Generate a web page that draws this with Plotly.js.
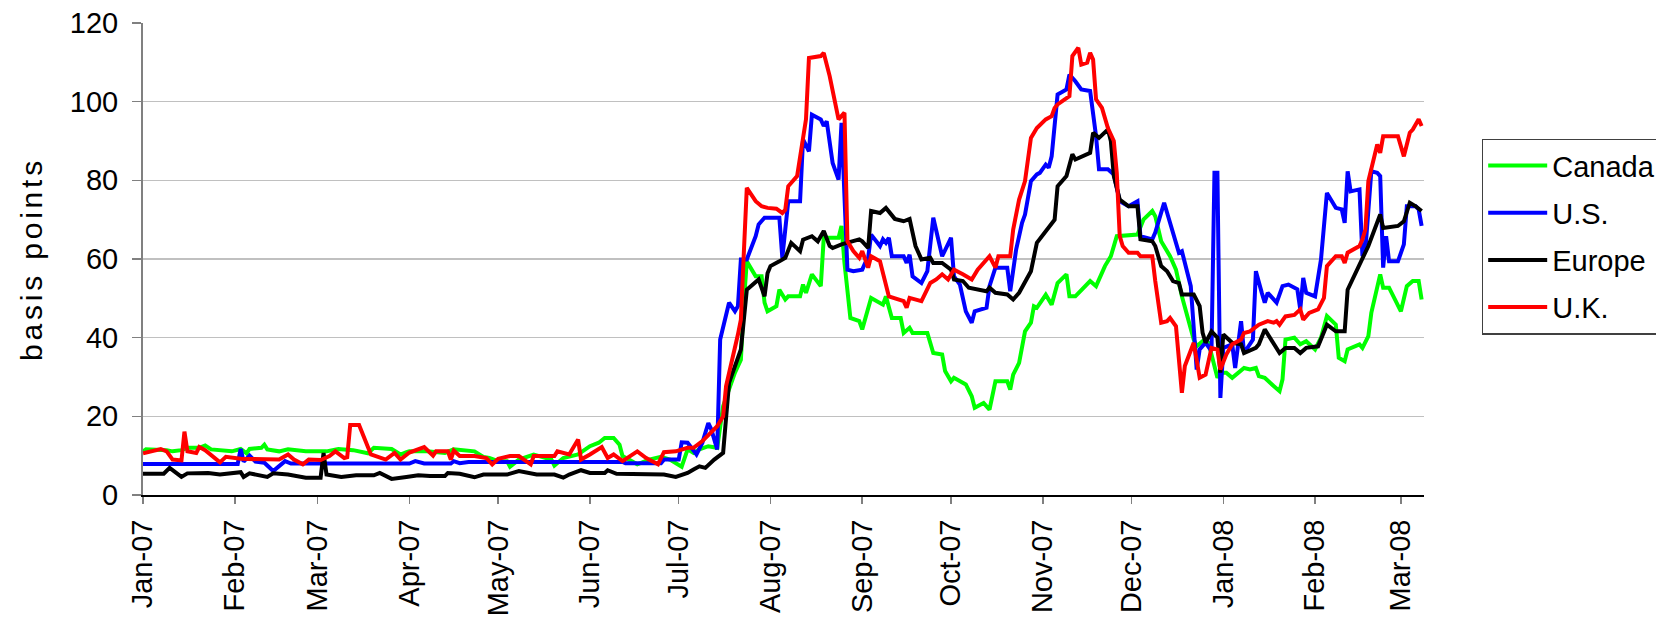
<!DOCTYPE html>
<html>
<head>
<meta charset="utf-8">
<script src="https://cdn.plot.ly/plotly-3.0.1.min.js"></script>
<style>
  html, body { margin: 0; padding: 0; overflow: hidden; background: #fff; }
  #chart { width: 1800px; height: 621px; }
  #chart .ytitle { letter-spacing: 3.8px; }
</style>
</head>
<body>
<div id="chart"></div>
<script>
// Series names, in legend order
const seriesNames = ['Canada', 'U.S.', 'Europe', 'U.K.'];
// All x values are days counted from this date
const startDate = '2007-01-01';

// [day since 1 Jan 2007, basis points]
const canadaPoints = [
  [0,11.1],[1,11.6],[8,11.4],[10,11.1],[13,11.4],[15,12.0],[19,12.0],[21,12.6],[23,11.6],[30,11.1],[33,11.7],[35,10.6],[36,11.7],
  [40,12.0],[41,12.8],[42,11.6],[46,11.1],[49,11.6],[55,11.1],[62,11.1],[66,11.7],[71,11.4],[76,10.6],[78,12.0],[84,11.7],[87,10.3],
  [89,10.9],[90,11.1],[96,11.1],[102,10.7],[105,11.6],[112,11.1],[115,9.7],[117,9.4],[120,8.6],[123,8.6],[124,7.2],[127,9.0],[132,10.3],
  [138,9.0],[139,7.5],[142,9.4],[147,10.3],[151,12.4],[154,13.3],[156,14.5],[159,14.5],[161,12.8],[162,9.9],[167,7.8],[171,9.0],[175,9.7],
  [178,9.0],[182,7.2],[184,11.6],[186,10.7],[188,11.6],[191,12.4],[194,12.0],[196,22.6],[200,31.1],[202,34.4],[203,48.9],[204,59.4],
  [207,55.6],[209,55.6],[210,48.9],[211,46.7],[214,48.0],[215,52.2],[217,49.7],[218,50.5],[222,50.5],[223,53.5],[224,51.4],[226,56.1],
  [229,53.1],[230,65.4],[235,65.4],[236,68.4],[237,59.0],[239,45.0],[242,44.2],[243,42.1],[246,50.1],[250,48.4],[251,50.5],[253,45.0],
  [256,45.0],[257,41.2],[259,42.5],[260,41.2],[265,41.2],[267,36.1],[270,35.7],[271,31.5],[273,28.9],[274,29.8],[278,28.1],[280,25.1],
  [281,22.2],[284,23.4],[286,21.7],[288,28.9],[292,28.9],[293,26.8],[294,30.6],[296,33.6],[298,41.6],[300,43.8],[301,48.0],[302,47.6],
  [305,50.9],[307,48.4],[309,53.9],[312,56.1],[313,50.5],[315,50.5],[320,54.4],[322,53.1],[325,58.2],[327,60.7],[329,65.8],[336,66.2],
  [338,70.0],[341,72.2],[342,70.9],[344,64.5],[347,60.7],[349,57.3],[351,50.5],[355,39.5],[356,37.8],[358,39.1],[360,38.7],[363,29.8],
  [364,31.1],[366,31.1],[368,29.8],[372,32.3],[374,31.9],[376,32.3],[377,30.2],[379,29.8],[382,27.7],[384,26.4],[385,29.4],[386,39.5],
  [389,40.0],[391,38.3],[393,39.1],[396,37.0],[398,40.0],[400,45.5],[403,43.3],[404,34.9],[406,34.0],[407,37.0],[411,38.3],[412,37.4],
  [414,40.4],[415,46.3],[418,56.1],[419,52.7],[421,52.7],[423,49.7],[425,46.7],[427,53.1],[429,54.4],[431,54.4],[432,49.7]
];

const usPoints = [
  [0,7.9],[32,7.9],[33,11.7],[34,8.5],[36,10.0],[38,8.5],[41,8.2],[44,6.1],[48,8.6],[50,8.0],[90,8.0],[92,8.6],[95,8.0],[104,8.0],
  [105,8.6],[107,8.1],[110,8.4],[162,8.4],[163,8.1],[175,8.1],[176,9.0],[181,9.0],[182,13.4],[184,13.3],[187,10.3],[189,13.3],[191,18.3],
  [192,16.7],[194,11.6],[195,39.5],[198,48.9],[200,46.7],[201,48.0],[202,59.9],[204,59.9],[207,65.8],[208,68.8],[210,70.5],[215,70.5],
  [216,60.3],[218,74.7],[222,74.7],[223,90.4],[225,87.4],[226,96.7],[229,95.5],[230,93.8],[231,95.0],[233,84.4],[235,80.2],[236,94.6],
  [238,57.3],[240,56.9],[243,57.3],[244,59.0],[245,60.3],[246,66.2],[249,63.3],[250,65.0],[251,64.1],[252,65.4],[253,60.7],[257,60.7],
  [258,59.0],[259,61.1],[260,55.6],[263,53.9],[265,56.9],[267,70.5],[270,60.7],[273,65.4],[274,55.6],[276,53.5],[278,46.7],[280,43.8],
  [281,46.7],[285,47.6],[286,53.1],[288,57.8],[292,57.8],[293,51.8],[295,62.4],[297,69.2],[298,71.3],[300,79.8],[302,81.5],[303,81.9],
  [305,84.0],[306,83.2],[307,86.1],[309,101.8],[312,103.1],[313,106.9],[315,105.2],[317,103.1],[320,102.7],[322,91.2],[323,82.8],
  [326,82.8],[328,81.5],[330,74.7],[333,73.4],[336,74.7],[337,65.8],[341,65.0],[342,66.7],[345,74.3],[348,66.2],[350,61.6],[351,62.0],
  [354,53.1],[356,31.9],[357,37.0],[359,38.7],[361,36.6],[362,81.9],[363,81.9],[364,24.7],[365,37.4],[368,38.3],[369,32.3],[371,44.2],
  [372,36.1],[375,39.5],[376,56.9],[378,51.4],[379,48.9],[380,51.4],[383,48.9],[385,53.1],[387,53.5],[390,52.3],[391,47.2],[392,55.2],
  [393,51.4],[396,50.5],[398,59.9],[400,76.8],[403,73.0],[405,72.6],[406,69.2],[407,82.3],[408,77.2],[411,77.7],[412,60.7],[413,62.4],
  [415,82.3],[417,81.9],[418,81.1],[419,57.8],[420,65.8],[421,59.4],[424,59.4],[426,63.7],[427,73.4],[430,73.4],[431,72.6],[432,68.4]
];

const europePoints = [
  [0,5.4],[6,5.6],[7,5.4],[9,6.9],[13,4.6],[15,5.5],[22,5.6],[26,5.2],[30,5.6],[33,5.8],[34,4.6],[36,5.5],[42,4.6],[44,5.5],[49,5.2],
  [55,4.4],[60,4.4],[61,10.7],[62,5.2],[67,4.6],[72,5.0],[78,5.0],[80,5.6],[84,4.1],[89,4.6],[93,5.0],[97,4.8],[102,4.8],[103,5.6],
  [107,5.4],[112,4.5],[115,5.2],[123,5.2],[127,6.1],[133,5.2],[139,5.2],[142,4.4],[144,5.2],[148,6.3],[151,5.6],[156,5.6],[157,6.3],
  [160,5.4],[169,5.4],[176,5.2],[180,4.6],[184,5.6],[186,6.5],[188,7.3],[190,6.9],[193,9.0],[196,10.7],[197,19.2],[198,28.5],[202,37.0],
  [203,44.6],[204,52.2],[208,54.8],[210,50.5],[211,56.4],[212,58.2],[215,59.4],[217,60.3],[219,64.1],[222,62.0],[223,64.9],[226,65.8],
  [228,64.5],[230,67.1],[232,63.3],[233,62.8],[236,63.7],[238,64.1],[242,65.0],[243,64.5],[245,62.8],[246,72.2],[249,71.7],[251,73.0],
  [254,70.2],[257,69.6],[259,70.2],[261,63.3],[263,59.9],[266,60.3],[267,59.0],[270,59.0],[273,57.3],[274,54.8],[277,54.4],[279,52.7],
  [285,51.8],[286,52.7],[288,51.4],[292,51.0],[294,49.7],[296,51.4],[300,56.9],[302,64.1],[305,67.1],[308,70.0],[309,78.5],[312,81.1],
  [314,86.6],[315,85.3],[320,87.0],[321,92.1],[323,90.8],[326,92.9],[327,90.0],[328,81.1],[330,75.1],[333,73.4],[336,73.4],[337,65.0],
  [341,64.5],[342,63.3],[344,58.2],[346,56.9],[348,54.4],[350,53.9],[351,51.0],[355,51.0],[357,48.0],[358,41.2],[359,38.7],[361,41.6],
  [363,40.0],[364,31.1],[365,40.8],[368,38.7],[371,38.3],[372,36.1],[376,37.4],[377,38.3],[379,42.1],[384,36.1],[386,37.4],[389,37.4],
  [391,36.1],[393,37.4],[397,37.8],[399,41.2],[400,43.3],[403,41.6],[406,41.6],[407,52.2],[411,58.6],[414,63.3],[418,71.3],[419,67.9],
  [424,68.4],[426,69.6],[428,74.3],[430,73.4],[432,72.2]
];

const ukPoints = [
  [0,10.6],[6,11.7],[8,11.1],[10,9.0],[13,8.8],[14,16.1],[15,11.1],[18,10.7],[19,12.2],[21,11.4],[26,8.3],[28,9.7],[33,9.2],[46,9.0],
  [49,10.3],[51,9.0],[54,7.8],[56,9.0],[60,8.9],[63,9.9],[65,11.1],[68,9.4],[69,9.6],[70,17.8],[73,17.8],[77,10.3],[82,9.0],[85,10.7],
  [87,9.0],[90,10.8],[95,12.2],[98,10.0],[99,11.1],[103,11.1],[104,9.0],[105,11.3],[107,9.9],[112,9.9],[116,9.4],[118,7.8],[120,9.2],
  [124,9.9],[127,9.9],[131,7.8],[132,9.9],[139,9.9],[140,11.1],[144,10.3],[147,14.1],[148,9.0],[151,10.3],[155,12.2],[157,9.4],[159,10.3],
  [162,8.6],[167,11.1],[170,9.4],[174,7.8],[176,10.9],[180,11.1],[184,12.0],[186,12.0],[189,13.7],[192,15.8],[194,17.5],[196,20.0],
  [197,27.7],[201,40.8],[202,44.6],[203,61.6],[204,78.1],[207,74.7],[209,73.4],[211,73.0],[214,72.8],[216,71.7],[217,72.5],[218,78.5],
  [221,81.1],[224,95.5],[225,111.1],[229,111.6],[230,112.4],[232,106.5],[233,103.1],[235,95.5],[237,97.2],[238,64.5],[240,62.0],[242,60.3],
  [243,62.0],[245,57.8],[246,60.7],[249,59.4],[252,50.5],[257,49.3],[258,47.6],[259,50.1],[263,49.3],[266,53.9],[268,54.8],[270,56.1],
  [272,54.8],[274,57.3],[277,56.1],[280,54.8],[282,57.3],[286,60.7],[288,57.8],[289,60.7],[293,60.7],[294,67.5],[296,75.1],[298,79.8],
  [300,90.8],[302,93.3],[305,95.5],[307,96.3],[308,98.4],[309,99.3],[313,101.4],[314,111.6],[316,113.7],[317,109.4],[319,109.9],[320,112.4],
  [321,110.7],[322,100.6],[324,98.4],[326,93.3],[328,90.0],[329,81.9],[330,65.8],[331,63.3],[333,61.6],[336,61.6],[337,60.7],[341,60.7],
  [342,54.4],[344,43.8],[346,44.2],[347,45.0],[349,42.9],[350,35.3],[351,26.0],[352,32.8],[353,34.9],[355,38.7],[357,29.8],[359,30.6],
  [361,37.4],[363,37.0],[364,31.9],[366,35.7],[368,38.3],[371,39.5],[372,41.2],[374,41.6],[377,43.3],[380,44.2],[382,43.8],[383,44.2],
  [384,43.3],[386,45.4],[389,45.8],[391,47.2],[392,44.6],[394,46.3],[397,47.2],[399,50.1],[400,58.2],[403,60.7],[405,60.7],[406,59.0],
  [407,61.6],[411,63.3],[412,65.0],[413,67.5],[414,79.8],[417,89.1],[418,87.0],[419,91.2],[424,91.2],[426,86.1],[428,92.1],[429,92.9],
  [431,95.5],[432,93.8]
];

const yTickValues = [0, 20, 40, 60, 80, 100, 120];
const xRangeDays = [0, 432.8];

const seriesColors = ['#00FF00', '#0000FF', '#000000', '#FF0000'];

function dayToDate(d) {
  const ms = Date.parse(startDate + 'T00:00:00Z') + d * 86400000;
  return new Date(ms).toISOString().replace('T', ' ').slice(0, 19);
}

const allPoints = [canadaPoints, usPoints, europePoints, ukPoints];
const traces = allPoints.map((pts, i) => ({
  type: 'scatter',
  mode: 'lines',
  name: seriesNames[i],
  legendgroup: 'g' + i,
  x: pts.map(p => dayToDate(p[0])),
  y: pts.map(p => p[1]),
  line: { color: seriesColors[i], width: 4 },
  hoverinfo: 'x+y+name'
}));

const FONT = 'Liberation Sans, Arial, Helvetica, sans-serif';
const FS = 29;
const W = 1800, H = 621;
const plotL = 143, plotR = 1424.3, plotT = 23.3, plotB = 495.5;

const layout = {
  width: W, height: H,
  paper_bgcolor: '#ffffff', plot_bgcolor: '#ffffff',
  font: { family: FONT, size: FS, color: '#000000' },
  margin: { l: plotL, r: W - plotR, t: plotT, b: H - plotB, pad: 0, autoexpand: false },
  showlegend: true,
  xaxis: {
    type: 'date',
    range: xRangeDays.map(dayToDate),
    tick0: startDate, dtick: 'M1',
    tickformat: '%b-%y',
    tickangle: -90,
    ticks: 'outside', ticklen: 7, tickwidth: 1.5, tickcolor: '#808080',
    showline: true, linecolor: '#000000', linewidth: 2,
    showgrid: false, zeroline: false, automargin: false,
    tickfont: { family: FONT, size: FS, color: '#000000' },
    ticklabelstandoff: 4
  },
  yaxis: {
    range: [0, 120],
    tickmode: 'array', tickvals: yTickValues, ticktext: yTickValues.map(String),
    ticks: 'outside', ticklen: 9, tickwidth: 1.5, tickcolor: '#808080',
    showline: true, linecolor: '#808080', linewidth: 2,
    showgrid: true, gridcolor: '#C0C0C0', gridwidth: 1.2,
    zeroline: false, automargin: false,
    tickfont: { family: FONT, size: FS, color: '#000000' },
    ticklabelstandoff: 8,
    title: { text: 'basis points', font: { family: FONT, size: 30, color: '#000000' }, standoff: 18 }
  },
  legend: {
    x: (1482 - plotL) / (plotR - plotL), xanchor: 'left',
    y: (plotB - 139) / (plotB - plotT), yanchor: 'top',
    bgcolor: '#ffffff', bordercolor: '#404040', borderwidth: 1.5,
    font: { family: FONT, size: FS, color: '#000000' },
    itemwidth: 59, tracegroupgap: 6.5, traceorder: 'grouped',
    itemclick: false, itemdoubleclick: false
  }
};

Plotly.newPlot('chart', traces, layout, { staticPlot: true, displayModeBar: false });
</script>
</body>
</html>
